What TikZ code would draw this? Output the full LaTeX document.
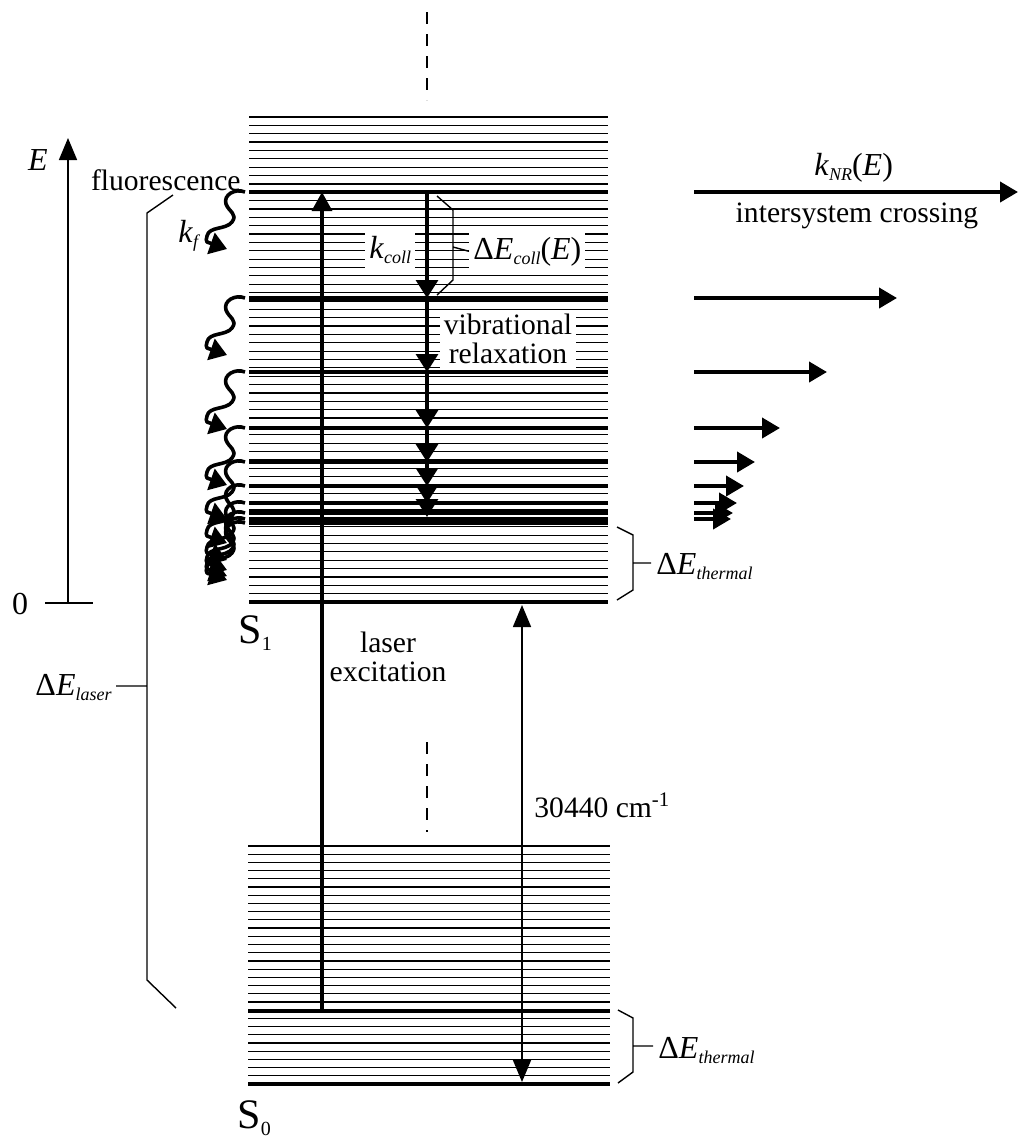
\documentclass[tikz,border=0pt]{standalone}
\usepackage{fontspec}
\setmainfont{Liberation Serif}
\usetikzlibrary{arrows.meta}
\newcommand{\txtfont}{\fontsize{14.8}{14.5}\selectfont}
\newcommand{\symfont}{\fontsize{16}{17}\selectfont}
\newcommand{\statefont}{\fontsize{21}{22}\selectfont}
\newcommand{\lsub}[1]{\raisebox{-2.8pt}{\fontsize{9}{9}\selectfont\itshape #1}}
\newcommand{\ssub}[1]{\raisebox{-3.5pt}{\fontsize{10}{10}\selectfont #1}}
\begin{document}
\begin{tikzpicture}[x=0.5pt,y=-0.5pt, every node/.style={font=\txtfont,inner sep=1pt},
  sublev/.style={line width=0.6pt},
  mainlev/.style={line width=2pt},
  lbl/.style={fill=white,inner sep=2pt},
  brk/.style={line width=0.7pt},
  gapdash/.style={line width=1pt,dash pattern=on 6pt off 5pt},
  relax/.style={line width=1.6pt,-{Triangle[length=9pt,width=11pt]}},
  isc/.style={line width=2pt,-{Triangle[length=9pt,width=10pt]}},
  wave/.style={line width=1.8pt,line join=round,-{Triangle[length=8.5pt,width=11pt]}},
  fluo/.pic={\draw[wave] (0,0) .. controls (-10,-4) and (-22,3) .. (-19,12) .. controls (-16,20) and (-7,22) .. (-13,30)
    .. controls (-19,38) and (-36,34) .. (-38,44) .. controls (-39,47) and (-39,49) .. (-38,50) -- (-18,57);}]
\useasboundingbox (0,0) rectangle (1020,1137);
% S1 and S0 level bands
\foreach \i in {0,...,57} \draw[sublev] (249,{117+\i*8.362}) -- (608,{117+\i*8.362});
\foreach \y in {192,298,372,428,462,486,503,513,519,523,602} \draw[mainlev] (249,\y) -- (608,\y);
\foreach \i in {0,...,28} \draw[sublev] (248,{846+\i*8.207}) -- (610,{846+\i*8.207});
\foreach \y in {1011,1084} \draw[mainlev] (248,\y) -- (610,\y);
\coordinate (d1) at (427,12); \coordinate (d2) at (427,100);
\coordinate (d3) at (427,742); \coordinate (d4) at (427,832);
\draw[gapdash] (d1) -- (d2); \draw[gapdash] (d3) -- (d4);
% labels
\node[font=\symfont] (eax) at (38,160) {\textit{E}};
\node[font=\symfont] (zero) at (20,604) {0};
\node[anchor=base east] (fluor) at (243,190) {fluorescence};
\node[anchor=base west,font=\symfont] (kf) at (176,242) {\textit{k}\lsub{f}};
\node[lbl,anchor=base west,font=\symfont] (kcoll) at (365,258) {\textit{k}\lsub{coll}};
\node[lbl,anchor=base west,font=\symfont] (dcoll) at (469,259) {Δ\textit{E}\lsub{coll}(\textit{E})};
\node[lbl,align=center] (vib) at (508,339) {vibrational\\relaxation};
\node[align=center] (lexc) at (388,657) {laser\\excitation};
\node[anchor=base west,font=\statefont] (s1) at (236,643) {S\ssub{1}};
\node[anchor=base west,font=\statefont] (s0) at (235,1128) {S\ssub{0}};
\node[anchor=base west] (gap) at (532,817) {30440 cm\textsuperscript{-1}};
\node[anchor=base west,font=\symfont] (dth1) at (654,574) {Δ\textit{E}\lsub{thermal}};
\node[anchor=base west,font=\symfont] (dth0) at (656,1058) {Δ\textit{E}\lsub{thermal}};
\node[anchor=base east,font=\symfont] (dlas) at (114,695) {Δ\textit{E}\lsub{laser}};
\node[anchor=base west,font=\symfont] (knr) at (812,175) {\textit{k}\lsub{NR}(\textit{E})};
\node[anchor=base] (iscl) at (857,222) {intersystem crossing};
% energy axis
\coordinate (e0) at (68,603); \coordinate (e1) at (68,138);
\draw[line width=0.8pt,-{Triangle[length=11pt,width=9pt]}] (e0) -- (e1);
\draw[line width=0.8pt] (45,603) -- (93,603);
% brackets
\draw[brk] (173,195) -- (147,213) -- (147,980) -- (176,1008) (147,686) -- (116,686);
\draw[brk] (437,196) -- (453,210) -- (453,280) -- (437,295) (453,247) -- (dcoll.west);
\draw[brk] (617,527) -- (633,535) -- (633,590) -- (617,600) (633,563) -- (651,563);
\draw[brk] (618,1010) -- (633,1018) -- (633,1072) -- (618,1083) (633,1046) -- (653,1046);
% transitions
\coordinate (g0) at (322,1011); \coordinate (x1) at (322,192);
\draw[line width=1.6pt,-{Triangle[length=9.5pt,width=10pt]}] (g0) -- (x1);
\coordinate (s1b) at (522,605); \coordinate (s0b) at (522,1082);
\draw[line width=0.8pt,{Triangle[length=11pt,width=9pt]}-{Triangle[length=11pt,width=9pt]}] (s0b) -- (s1b);
\foreach \y in {192,298,372,428,462,486,503,517} \coordinate (r\y) at (427,\y);
\foreach \a/\b in {192/298,298/372,372/428,428/462,462/486,486/503,503/517} \draw[relax] (r\a) -- (r\b);
\foreach \y/\x in {192/1018,298/897,372/827,428/780,462/755,486/744,503/737,513/733,519/731}
  {\coordinate (n\y) at (694,\y); \coordinate (m\y) at (\x,\y); \draw[isc] (n\y) -- (m\y);}
\foreach \y in {192,298,372,428,462,486,503,513,519,523} \pic at (245,\y) {fluo};
\end{tikzpicture}
\end{document}
